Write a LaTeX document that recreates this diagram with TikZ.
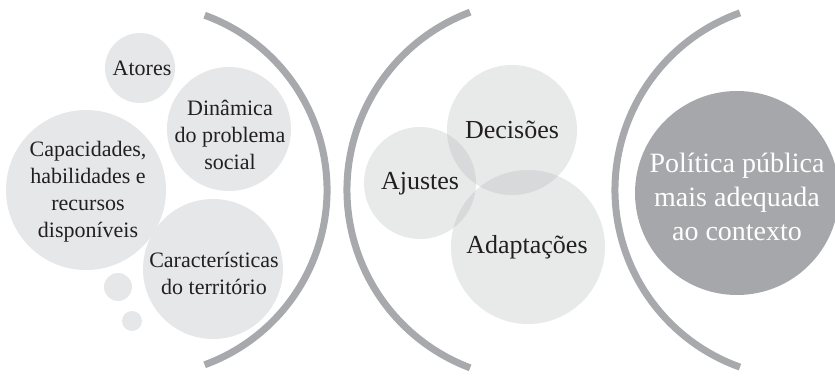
\documentclass[tikz,border=0pt]{standalone}
\usepackage{fontspec}
\setmainfont{Liberation Serif}
\definecolor{arcgray}{HTML}{A7A9AC}
\definecolor{bubfill}{HTML}{E6E7E8}
\definecolor{bubmix}{HTML}{B4B5B7}
\definecolor{darkbub}{HTML}{A5A7AA}
\definecolor{txt}{HTML}{231F20}
\tikzset{
  bracket/.style={draw=arcgray, line width=7pt},
  bub/.style={circle, fill=bubfill, draw=none, inner sep=0pt},
  tbub/.style={circle, fill=bubmix, fill opacity=0.3, draw=none, inner sep=0pt},
  ltext/.style={align=center, text=txt, font=\fontsize{22}{27}\selectfont, inner sep=0pt},
  mtext/.style={align=center, text=txt, font=\fontsize{26}{31}\selectfont, inner sep=0pt},
  rtext/.style={align=center, text=white, font=\fontsize{28}{34}\selectfont, inner sep=0pt}
}
\begin{document}
\begin{tikzpicture}[x=1pt,y=1pt]
\useasboundingbox (0,0) rectangle (835,-377);
% left group
\node[bub, minimum size=70pt] (catores) at (140,-68) {};
\node[bub, minimum size=124pt] (cdin) at (229,-129) {};
\node[bub, minimum size=160pt] (ccap) at (86,-190) {};
\node[bub, minimum size=140pt] (ccar) at (213,-269) {};
\node[bub, minimum size=28pt] (cs1) at (118,-287) {};
\node[bub, minimum size=20pt] (cs2) at (132,-321) {};
\node[ltext] (tatores) at (142,-68) {Atores};
\node[ltext] (tdin) at (230,-135) {Dinâmica\\do problema\\social};
\node[ltext] (tcap) at (88,-192) {Capacidades,\\habilidades e\\recursos\\disponíveis};
\node[ltext] (tcar) at (214,-273) {Características\\do território};
% arc 1
\coordinate (a1c) at (141,-190);
\draw[bracket] (a1c) ++(70:186) arc[start angle=70, end angle=-70, radius=186];
% middle group
\node[tbub, minimum size=130pt] (cdec) at (512,-130) {};
\node[tbub, minimum size=112pt] (caju) at (420,-183) {};
\node[tbub, minimum size=154pt] (cada) at (528,-247) {};
\node[mtext] (tdec) at (512,-130) {Decisões};
\node[mtext] (taju) at (420,-184) {Ajustes};
\node[mtext] (tada) at (527,-247) {Adaptações};
% arc 2
\coordinate (a2c) at (537,-190);
\draw[bracket] (a2c) ++(110.6:190) arc[start angle=110.6, end angle=249.4, radius=190];
% arc 3
\coordinate (a3c) at (803,-190);
\draw[bracket] (a3c) ++(109.6:188) arc[start angle=109.6, end angle=250.4, radius=188];
% result
\node[circle, fill=darkbub, draw=none, minimum size=204pt, inner sep=0pt] (cres) at (737,-193) {};
\node[rtext] (tres) at (737,-197) {Política pública\\mais adequada\\ao contexto};
\end{tikzpicture}
\end{document}
